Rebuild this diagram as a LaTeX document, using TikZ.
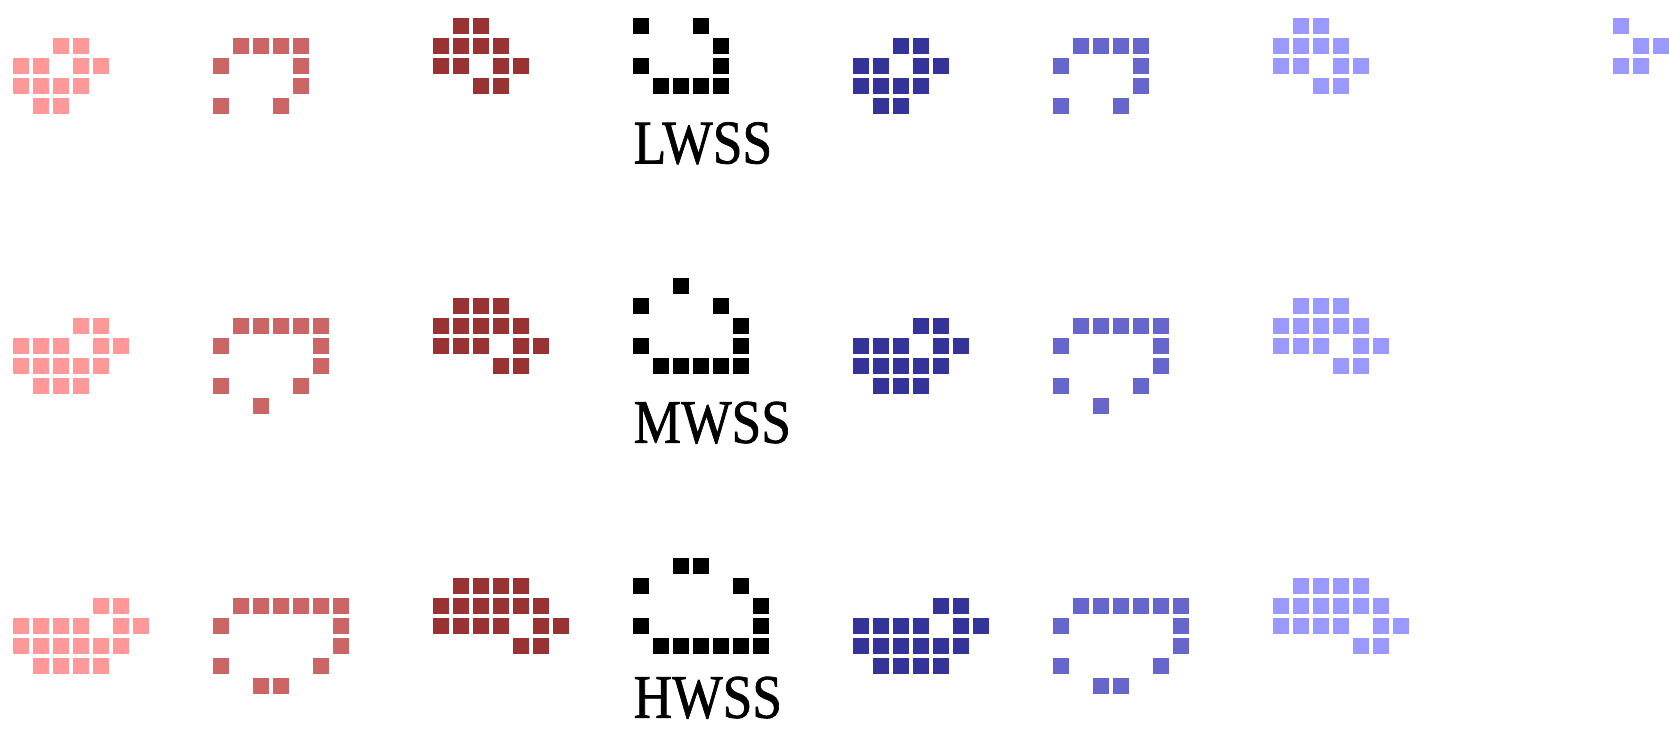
\documentclass[tikz,border=0pt]{standalone}
\usepackage{fontspec}
\setmainfont{Liberation Serif}
\newfontfamily\shipfont{Liberation Serif}[FakeBold=1.2]
\usepackage{xcolor}

\definecolor{lightred}{HTML}{FF9999}
\definecolor{midred}{HTML}{CC6666}
\definecolor{darkred}{HTML}{993333}
\definecolor{darkblue}{HTML}{333399}
\definecolor{midblue}{HTML}{6666CC}
\definecolor{lightblue}{HTML}{9999FF}

% cells as col/row pairs (row counted downwards)
\newcommand{\lwssOne}{2/1,3/1,0/2,1/2,3/2,4/2,0/3,1/3,2/3,3/3,1/4,2/4}
\newcommand{\lwssTwo}{11/1,12/1,13/1,14/1,10/2,14/2,14/3,10/4,13/4}
\newcommand{\lwssThree}{22/0,23/0,21/1,22/1,23/1,24/1,21/2,22/2,24/2,25/2,23/3,24/3}
\newcommand{\lwssShip}{31/0,34/0,35/1,31/2,35/2,32/3,33/3,34/3,35/3}
\newcommand{\gliderCells}{80/0,81/1,82/1,80/2,81/2}

\newcommand{\mwssOne}{3/15,4/15,0/16,1/16,2/16,4/16,5/16,0/17,1/17,2/17,3/17,4/17,1/18,2/18,3/18}
\newcommand{\mwssTwo}{11/15,12/15,13/15,14/15,15/15,10/16,15/16,15/17,10/18,14/18,12/19}
\newcommand{\mwssThree}{22/14,23/14,24/14,21/15,22/15,23/15,24/15,25/15,21/16,22/16,23/16,25/16,26/16,24/17,25/17}
\newcommand{\mwssShip}{33/13,31/14,35/14,36/15,31/16,36/16,32/17,33/17,34/17,35/17,36/17}

\newcommand{\hwssOne}{4/29,5/29,0/30,1/30,2/30,3/30,5/30,6/30,0/31,1/31,2/31,3/31,4/31,5/31,1/32,2/32,3/32,4/32}
\newcommand{\hwssTwo}{11/29,12/29,13/29,14/29,15/29,16/29,10/30,16/30,16/31,10/32,15/32,12/33,13/33}
\newcommand{\hwssThree}{22/28,23/28,24/28,25/28,21/29,22/29,23/29,24/29,25/29,26/29,21/30,22/30,23/30,24/30,26/30,27/30,25/31,26/31}
\newcommand{\hwssShip}{33/27,34/27,31/28,36/28,37/29,31/30,37/30,32/31,33/31,34/31,35/31,36/31,37/31}

% colour, column shift, list of cells
\newcommand{\drawcells}[3]{\foreach \c/\r in #3 {\fill[#1] ({\c+#2},\r) rectangle ++(0.8,0.8);}}
\newcommand{\shipname}[1]{\scalebox{0.86}[1]{#1}}

\begin{document}
\begin{tikzpicture}[
            x=0.3cm, y=-0.3cm,
            shiplabel/.style={anchor=base west, inner sep=0pt, font=\shipfont\fontsize{26.5}{30}\selectfont}
        ]
            \useasboundingbox (-0.66,-0.9) rectangle (82.79,35.9);

            % --- LWSS ---
            \drawcells{lightred}{0}{\lwssOne}
            \drawcells{midred}{0}{\lwssTwo}
            \drawcells{darkred}{0}{\lwssThree}
            \drawcells{black}{0}{\lwssShip}
            \drawcells{darkblue}{42}{\lwssOne}
            \drawcells{midblue}{42}{\lwssTwo}
            \drawcells{lightblue}{42}{\lwssThree}
            \drawcells{lightblue}{0}{\gliderCells}
            \node[shiplabel] (lwss) at (31,7.27) {\shipname{LWSS}};

            % --- MWSS ---
            \drawcells{lightred}{0}{\mwssOne}
            \drawcells{midred}{0}{\mwssTwo}
            \drawcells{darkred}{0}{\mwssThree}
            \drawcells{black}{0}{\mwssShip}
            \drawcells{darkblue}{42}{\mwssOne}
            \drawcells{midblue}{42}{\mwssTwo}
            \drawcells{lightblue}{42}{\mwssThree}
            \node[shiplabel] (mwss) at (31,21.24) {\shipname{MWSS}};

            % --- HWSS ---
            \drawcells{lightred}{0}{\hwssOne}
            \drawcells{midred}{0}{\hwssTwo}
            \drawcells{darkred}{0}{\hwssThree}
            \drawcells{black}{0}{\hwssShip}
            \drawcells{darkblue}{42}{\hwssOne}
            \drawcells{midblue}{42}{\hwssTwo}
            \drawcells{lightblue}{42}{\hwssThree}
            \node[shiplabel] (hwss) at (31,34.99) {\shipname{HWSS}};

        \end{tikzpicture}
\end{document}
